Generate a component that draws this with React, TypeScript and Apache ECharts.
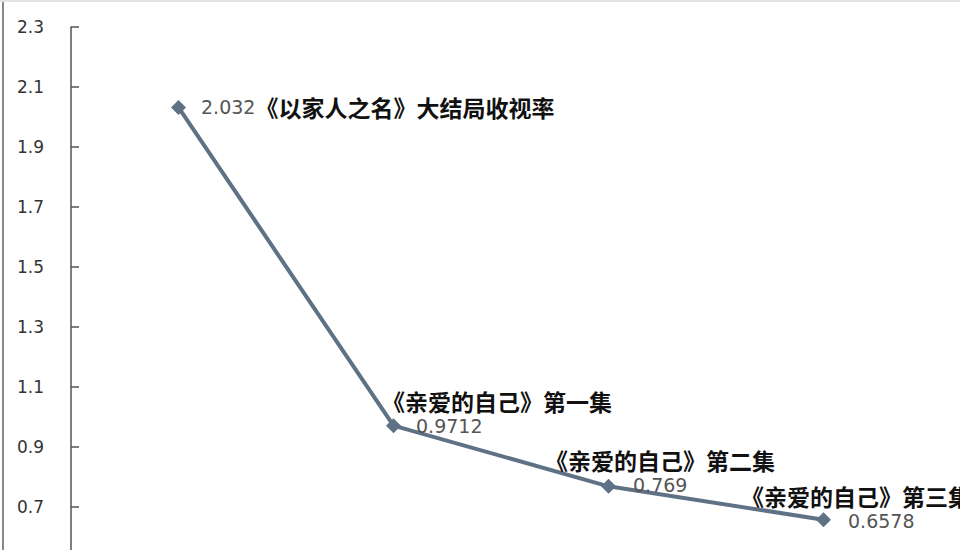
import React, { useEffect, useRef } from 'react';
import * as echarts from 'echarts';

const categories = ['以家人之名 大结局', '亲爱的自己 第一集', '亲爱的自己 第二集', '亲爱的自己 第三集'];
const ratings = [2.032, 0.9712, 0.769, 0.6578];
const titles = ['《以家人之名》大结局收视率', '《亲爱的自己》第一集', '《亲爱的自己》第二集', '《亲爱的自己》第三集'];
const yTicks = { min: 0.5, max: 2.3, interval: 0.2 };

// label placement per point: [dx, dy] from symbol box, value indent
const labelPos: [number, number, number][] = [
  [0, 0, 0],
  [-4, -30, 34],
  [-56, -32, 88],
  [-75, -29, 107],
];

const LINE = '#5f7185';

const App: React.FC = () => {
  const chartRef = useRef<HTMLDivElement>(null);

  useEffect(() => {
    if (!chartRef.current) return;
    const chart = echarts.init(chartRef.current, undefined, { renderer: 'svg' });

    const rich = {
      t: {
        fontFamily: '"Noto Sans CJK SC", sans-serif',
        fontWeight: 'bold' as const,
        fontSize: 23,
        color: '#111',
        lineHeight: 26,
      },
      v: {
        fontFamily: '"DejaVu Sans", sans-serif',
        fontSize: 19,
        color: '#555',
        lineHeight: 24,
      },
    };

    const data = ratings.map((v, i) => {
      if (i === 0) {
        return {
          value: v,
          label: {
            show: true,
            position: 'right' as const,
            distance: 15,
            formatter: `{v|${v}}{t|${titles[i]}}`,
            rich,
          },
        };
      }
      const [dx, dy, indent] = labelPos[i];
      return {
        value: v,
        label: {
          show: true,
          position: [dx, dy] as [number, number],
          align: 'left' as const,
          verticalAlign: 'top' as const,
          formatter: `{t|${titles[i]}}\n{v|${v}}`,
          rich: {
            t: rich.t,
            v: { ...rich.v, padding: [0, 0, 0, indent] },
          },
        },
      };
    });

    const option: echarts.EChartsOption = {
      animation: false,
      backgroundColor: '#ffffff',
      grid: { left: 71, right: 29, top: 27, bottom: 33 },
      xAxis: {
        type: 'category',
        data: categories,
        boundaryGap: true,
        show: false,
      },
      yAxis: {
        type: 'value',
        min: yTicks.min,
        max: yTicks.max,
        interval: yTicks.interval,
        axisLine: { show: true, lineStyle: { color: '#555', width: 1.5 } },
        axisTick: { show: true, inside: true, length: 8, lineStyle: { color: '#555', width: 1.5 } },
        axisLabel: {
          color: '#333',
          fontSize: 17,
          fontFamily: '"DejaVu Sans", sans-serif',
          margin: 27,
          showMinLabel: false,
          formatter: (val: number) => val.toFixed(1),
        },
        splitLine: { show: false },
      },
      graphic: [
        {
          type: 'line',
          shape: { x1: 3, y1: 0, x2: 3, y2: 600 },
          style: { stroke: '#888', lineWidth: 2 },
        },
        {
          type: 'line',
          shape: { x1: 0, y1: 1, x2: 960, y2: 1 },
          style: { stroke: '#e4e4e4', lineWidth: 2 },
        },
      ],
      series: [
        {
          type: 'line',
          data,
          symbol: 'diamond',
          symbolSize: 15,
          itemStyle: { color: LINE },
          lineStyle: { color: LINE, width: 4 },
        },
      ],
    };

    chart.setOption(option);
    return () => chart.dispose();
  }, []);

  return (
    <div style={{ position: 'fixed', left: 0, top: 0, width: 960, height: 550, overflow: 'hidden', background: '#fff' }}>
      <div ref={chartRef} style={{ width: 960, height: 600 }} />
    </div>
  );
};

export default App;
